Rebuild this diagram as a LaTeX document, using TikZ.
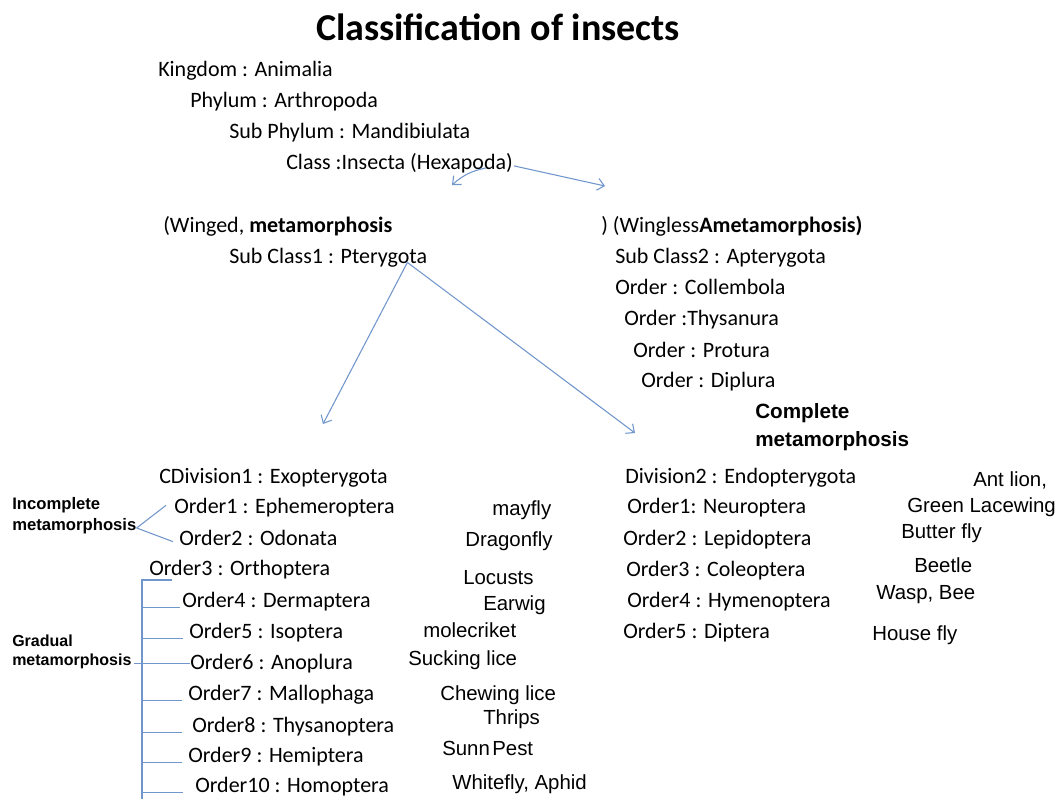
\documentclass[tikz,border=0pt]{standalone}
\usepackage{fontspec}
\setmainfont{Carlito}
\newfontfamily\arialfont{Liberation Sans}
\definecolor{linkblue}{RGB}{112, 150, 204}
\usetikzlibrary{arrows.meta, calc}

\begin{document}
\begin{tikzpicture}[
        x=0.75pt, y=-0.75pt,
        rank/.style={anchor=mid west, inner sep=0pt, yshift=-3pt, font=\fontsize{16.5}{18}\selectfont},
        common/.style={anchor=mid west, inner sep=0pt, yshift=-3pt, font=\arialfont\fontsize{15.3}{17}\selectfont},
        stage/.style={anchor=west, inner sep=0pt, align=left, font=\arialfont\bfseries\fontsize{12.5}{15.5}\selectfont},
        arrow/.style={-{Straight Barb[length=5pt, width=9pt]}, linkblue, line width=0.8pt},
        link/.style={linkblue, line width=0.8pt}
    ]
        \useasboundingbox (0,0) rectangle (1063,799);
        \node[inner sep=0pt, font=\bfseries\fontsize{28.5}{32}\selectfont] (title) at (498,27) {Classification of insects};

        % ranks above the class
        \node[rank] (kingdom) at (158,69) {Kingdom : Animalia};
        \node[rank] (phylum) at (190,100) {Phylum : Arthropoda};
        \node[rank] (subphylum) at (229,131) {Sub Phylum : Mandibiulata};
        \node[rank] (class) at (286,162) {Class :Insecta (Hexapoda)};

        % winged and wingless
        \node[rank] (winged) at (163,225) {(Winged, \textbf{metamorphosis}};
        \node[rank] (subclass1) at (229,256) {Sub Class1 : Pterygota};
        \node[rank] (wingless) at (601,225) {) (Wingless\textbf{Ametamorphosis)}};
        \node[rank] (subclass2) at (615,256) {Sub Class2 : Apterygota};
        \node[rank] (collembola) at (615,287) {Order : Collembola};
        \node[rank] (thysanura) at (624,318) {Order :Thysanura};
        \node[rank] (protura) at (633,350) {Order : Protura};
        \node[rank] (diplura) at (641,380) {Order : Diplura};
        \node[anchor=west, align=left, inner sep=0pt, font=\arialfont\bfseries\fontsize{15.5}{21}\selectfont] (complete) at (755,427) {Complete\\metamorphosis};

        \coordinate (wingedtip) at (452,185);
        \coordinate (winglesstip) at (605,186);
        \draw[arrow] ($(class.east)+(-27,5)$) to[bend right=15] (wingedtip);
        \draw[arrow] ($(class.east)+(1,3)$) -- (winglesstip);

        \coordinate (exotip) at (323,424);
        \coordinate (endotip) at (635,433);
        \draw[arrow] ($(subclass1.east)+(-20,5)$) -- (exotip);
        \draw[arrow] ($(subclass1.east)+(-20,5)$) -- (endotip);

        % division 1
        \node[rank] (exo) at (159,476) {CDivision1 : Exopterygota};
        \node[rank] (o1) at (174,506) {Order1 : Ephemeroptera};
        \node[rank] (o2) at (179,538) {Order2 : Odonata};
        \node[rank] (o3) at (149,568) {Order3 : Orthoptera};
        \node[rank] (o4) at (182,600) {Order4 : Dermaptera};
        \node[rank] (o5) at (189,631) {Order5 : Isoptera};
        \node[rank] (o6) at (190,662) {Order6 : Anoplura};
        \node[rank] (o7) at (188,693) {Order7 : Mallophaga};
        \node[rank] (o8) at (192,725) {Order8 : Thysanoptera};
        \node[rank] (o9) at (188,755) {Order9 : Hemiptera};
        \node[rank] (o10) at (195,785) {Order10 : Homoptera};

        \node[common] (mayfly) at (492,508) {mayfly};
        \node[common] (dragonfly) at (465,539) {Dragonfly};
        \node[common] (locusts) at (463,577) {Locusts};
        \node[common] (earwig) at (483,603) {Earwig};
        \node[common] (molecriket) at (423,630) {molecriket};
        \node[common] (suckinglice) at (408,658) {Sucking lice};
        \node[common] (chewinglice) at (440,693) {Chewing lice};
        \node[common] (thrips) at (483,717) {Thrips};
        \node[common] (sunnpest) at (442,748) {Sunn\hspace{0.12em}Pest};
        \node[common] (whitefly) at (452,782) {Whitefly, Aphid};

        \node[stage] (incomplete) at (12,516) {Incomplete\\metamorphosis};
        \draw[link] ($(incomplete.east)+(0,12)$) -- ($(o1.west)+(-8,-2)$);
        \draw[link] ($(incomplete.east)+(0,12)$) -- ($(o2.west)+(-6,4)$);

        \node[stage, font=\arialfont\bfseries\fontsize{12}{14.5}\selectfont] (gradual) at (12,652) {Gradual\\metamorphosis};
        \draw[link] ($(gradual.east |- o6.west)+(2,0)$) -- (o6.west);

        \coordinate (bartop) at (142,580);
        \coordinate (barfoot) at (142,799);
        \draw[link] ($(bartop)+(30,0)$) -- (bartop) -- (barfoot);
        \draw[link] (bartop |- o4.base west) -- ($(o4.base west)+(-2,0)$);
        \draw[link] (bartop |- o5.base west) -- ($(o5.base west)+(-6,0)$);
        \draw[link] (bartop |- o7.base west) -- ($(o7.base west)+(-6,0)$);
        \draw[link] (bartop |- o8.base west) -- ($(o8.base west)+(-10,0)$);
        \draw[link] (bartop |- o9.base west) -- ($(o9.base west)+(-6,0)$);
        \draw[link] (bartop |- o10.base west) -- ($(o10.base west)+(-12,0)$);

        % division 2
        \node[rank] (endo) at (625,476) {Division2 : Endopterygota};
        \node[rank] (n1) at (627,506) {Order1: Neuroptera};
        \node[rank] (n2) at (623,538) {Order2 : Lepidoptera};
        \node[rank] (n3) at (626,569) {Order3 : Coleoptera};
        \node[rank] (n4) at (627,600) {Order4 : Hymenoptera};
        \node[rank] (n5) at (623,631) {Order5 : Diptera};

        \node[common] (antlion) at (973,479) {Ant lion,};
        \node[common] (lacewing) at (907,505) {Green Lacewing};
        \node[common] (butterfly) at (901,531) {Butter fly};
        \node[common] (beetle) at (914,565) {Beetle};
        \node[common] (wasp) at (876,592) {Wasp, Bee};
        \node[common] (housefly) at (872,633) {House fly};
    \end{tikzpicture}
\end{document}
